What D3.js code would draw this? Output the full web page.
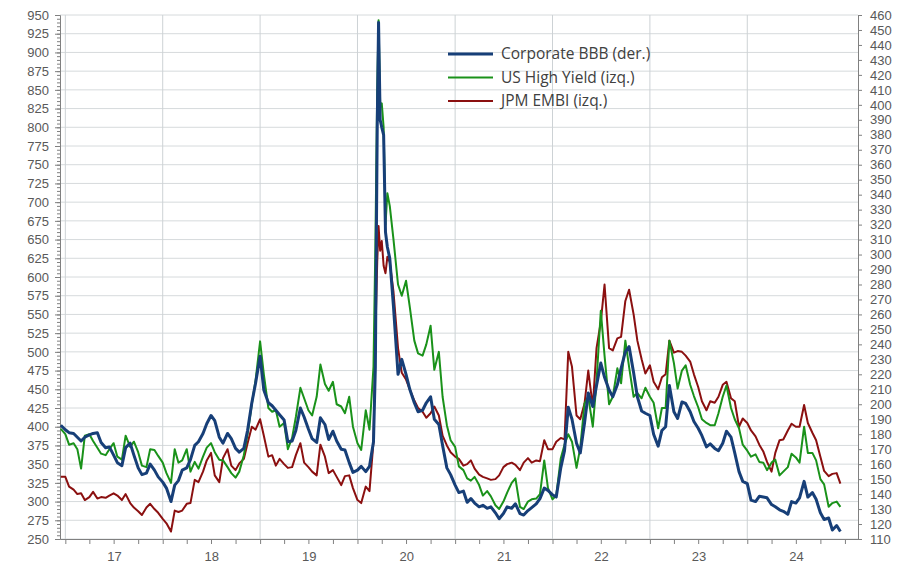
<!DOCTYPE html>
<html>
<head>
<meta charset="utf-8">
<script src="https://cdn.jsdelivr.net/npm/d3@7"></script>
<style>
  body { margin: 0; background: #fff; }
  svg { display: block; font-family: "Open Sans", sans-serif; }
</style>
</head>
<body>
<svg id="chart" width="909" height="566"></svg>
<script>
// Dates (semi-monthly, with a few extra points around the March 2020 spike)
const dates = [
  "2016-12-15",
  "2017-01-01","2017-01-15","2017-02-01","2017-02-15","2017-03-01","2017-03-15","2017-04-01","2017-04-15","2017-05-01","2017-05-15","2017-06-01","2017-06-15",
  "2017-07-01","2017-07-15","2017-08-01","2017-08-15","2017-09-01","2017-09-15","2017-10-01","2017-10-15","2017-11-01","2017-11-15","2017-12-01","2017-12-15",
  "2018-01-01","2018-01-15","2018-02-01","2018-02-15","2018-03-01","2018-03-15","2018-04-01","2018-04-15","2018-05-01","2018-05-15","2018-06-01","2018-06-15",
  "2018-07-01","2018-07-15","2018-08-01","2018-08-15","2018-09-01","2018-09-15","2018-10-01","2018-10-15","2018-11-01","2018-11-15","2018-12-01","2018-12-15",
  "2019-01-01","2019-01-15","2019-02-01","2019-02-15","2019-03-01","2019-03-15","2019-04-01","2019-04-15","2019-05-01","2019-05-15","2019-06-01","2019-06-15",
  "2019-07-01","2019-07-15","2019-08-01","2019-08-15","2019-09-01","2019-09-15","2019-10-01","2019-10-15","2019-11-01","2019-11-15","2019-12-01","2019-12-15",
  "2020-01-01","2020-01-15","2020-02-01","2020-02-15","2020-03-01","2020-03-08","2020-03-15","2020-03-20","2020-03-26","2020-04-01","2020-04-08","2020-04-15","2020-04-22","2020-05-01","2020-05-15","2020-06-01","2020-06-15",
  "2020-07-01","2020-07-15","2020-08-01","2020-08-15","2020-09-01","2020-09-15","2020-10-01","2020-10-15","2020-11-01","2020-11-15","2020-12-01","2020-12-15",
  "2021-01-01","2021-01-15","2021-02-01","2021-02-15","2021-03-01","2021-03-15","2021-04-01","2021-04-15","2021-05-01","2021-05-15","2021-06-01","2021-06-15",
  "2021-07-01","2021-07-15","2021-08-01","2021-08-15","2021-09-01","2021-09-15","2021-10-01","2021-10-15","2021-11-01","2021-11-15","2021-12-01","2021-12-15",
  "2022-01-01","2022-01-15","2022-02-01","2022-02-15","2022-03-01","2022-03-15","2022-04-01","2022-04-15","2022-05-01","2022-05-15","2022-06-01","2022-06-15",
  "2022-07-01","2022-07-15","2022-08-01","2022-08-15","2022-09-01","2022-09-15","2022-10-01","2022-10-15","2022-11-01","2022-11-15","2022-12-01","2022-12-15",
  "2023-01-01","2023-01-15","2023-02-01","2023-02-15","2023-03-01","2023-03-15","2023-04-01","2023-04-15","2023-05-01","2023-05-15","2023-06-01","2023-06-15",
  "2023-07-01","2023-07-15","2023-08-01","2023-08-15","2023-09-01","2023-09-15","2023-10-01","2023-10-15","2023-11-01","2023-11-15","2023-12-01","2023-12-15",
  "2024-01-01","2024-01-15","2024-02-01","2024-02-15","2024-03-01","2024-03-15","2024-04-01","2024-04-15","2024-05-01","2024-05-15","2024-06-01","2024-06-15",
  "2024-07-01","2024-07-15","2024-08-01","2024-08-15","2024-09-01","2024-09-15","2024-10-01","2024-10-15","2024-11-01","2024-11-15","2024-12-01","2024-12-15"
];

// Corporate BBB (right axis, pb)
const corporateBBB = [
  186,
  183, 181, 180.5, 178, 175.5, 178, 179.5, 180.5, 181, 174.5, 171, 171.5, 166, 161, 159, 171, 174, 166, 157.5, 153, 154, 160, 156, 151.5,
  148, 144, 135, 146, 149, 156, 157.5, 163, 172.5, 175, 180.5, 187, 192.5, 189, 178, 174, 180.5, 177, 170.5, 168, 170.5, 182.5, 201, 214,
  232, 209.5, 201, 199, 196, 193, 189.5, 175, 175.5, 182.5, 197.5, 191.5, 183.5, 177, 174.5, 191, 186.5, 176.5, 182, 175.5, 170, 169.5, 161, 154.5,
  156, 158.5, 155, 158.5, 175, 225, 385, 455, 390, 385, 380, 315, 305, 297.5, 265, 220, 230, 220, 210, 201, 195, 196, 201, 205, 190, 186.5, 172.5, 157.5, 153,
  146, 141, 142, 134.5, 137, 134, 131.5, 132.5, 130.5, 131.5, 127.5, 123.5, 127, 131.5, 130.5, 133.5, 127, 126, 129, 131, 133.5, 137, 144, 142.5,
  139.5, 138, 157.5, 169, 198, 190, 174, 167.5, 187.5, 207.5, 198.5, 212.5, 227.5, 218, 209.5, 205, 213, 224, 235, 238.5, 221, 205, 195.5, 194,
  192.5, 180, 172, 182.5, 185, 212.5, 195, 190.5, 201.5, 200.5, 195, 188.5, 184, 179, 171.5, 173.5, 170.5, 169, 174, 182, 178, 167.5, 155, 148.5,
  147, 136, 135, 138.5, 138, 137.5, 133, 131.5, 129.5, 128.5, 126.5, 135, 134, 137.5, 148.5, 138, 141, 136.5, 127.5, 123, 124, 116, 119, 115
];

// US High Yield (left axis, pb)
const usHighYield = [
  397,
  390, 376, 378, 370, 344, 388, 390, 381, 372, 364, 362, 370, 378, 360, 356, 388, 373, 380, 366, 348, 346, 370, 369, 361,
  352, 338, 325, 370, 352, 355, 370, 340, 353, 344, 360, 372, 378, 366, 356, 355, 346, 338, 332, 340, 362, 390, 430, 462,
  514, 470, 425, 420, 422, 400, 405, 370, 385, 413, 452, 438, 422, 415, 440, 483, 457, 448, 460, 430, 427, 418, 440, 400,
  378, 369, 422, 396, 480, 640, 850, 943, 830, 832, 800, 670, 712, 695, 650, 590, 575, 595, 560, 515, 498, 495, 510, 535, 476, 500, 440, 402, 382,
  373, 347, 342, 331, 328, 333, 322, 308, 314, 307, 295, 290, 300, 312, 325, 331, 293, 290, 300, 303, 304, 310, 355, 318,
  303, 308, 358, 376, 390, 380, 345, 372, 431, 440, 400, 460, 555, 495, 430, 440, 478, 458, 515, 480, 440, 445, 438, 452,
  440, 432, 398, 425, 425, 515, 485, 451, 475, 482, 456, 441, 426, 410, 405, 402, 402, 418, 440, 455, 425, 410, 398, 376,
  368, 360, 363, 353, 352, 342, 352, 356, 335, 340, 346, 364, 359, 352, 400, 365, 365, 355, 330, 323, 293, 298, 300, 293
];

// JPM EMBI (left axis, pb)
const jpmEmbi = [
  333,
  333, 320, 316, 310, 311, 302, 306, 313, 304, 306, 305, 308, 311, 308, 302, 310, 298, 292, 287, 282, 292, 297, 290, 285,
  277, 271, 260, 288, 286, 288, 297, 298, 329, 326, 340, 355, 365, 335, 326, 358, 370, 348, 342, 351, 357, 378, 400, 396,
  410, 388, 360, 362, 348, 357, 350, 345, 346, 362, 378, 352, 346, 340, 335, 376, 360, 338, 342, 333, 322, 334, 335, 318,
  302, 298, 320, 314, 380, 520, 620, 668, 635, 648, 615, 605, 627, 620, 580, 505, 472, 463, 450, 435, 425, 420, 412, 418, 427, 415, 388, 375, 366,
  360, 357, 348, 350, 355, 344, 336, 333, 331, 329, 330, 335, 346, 350, 352, 349, 342, 352, 358, 352, 355, 354, 382, 370,
  370, 380, 385, 383, 500, 480, 415, 410, 431, 475, 427, 505, 540, 590, 505, 502, 518, 520, 568, 583, 550, 515, 490, 471,
  482, 460, 450, 466, 470, 515, 499, 501, 500, 495, 487, 470, 453, 434, 422, 434, 432, 440, 456, 460, 438, 434, 400, 411,
  405, 395, 387, 376, 367, 353, 340, 365, 382, 383, 395, 404, 400, 400, 429, 405, 392, 382, 360, 341, 334, 337, 338, 324
];

const yearLabels = ["17", "18", "19", "20", "21", "22", "23", "24"];
const seriesNames = ["Corporate BBB (der.)", "US High Yield (izq.)", "JPM EMBI (izq.)"];
const seriesColors = ["#173f78", "#1a921a", "#8b1010"];

const margin = { top: 15, right: 51, bottom: 27, left: 60 },
    width = 909 - margin.left - margin.right,
    height = 566 - margin.top - margin.bottom;

const svg = d3.select("#chart");
const g = svg.append("g")
    .attr("transform", `translate(${margin.left},${margin.top})`);

const parse = d3.timeParse("%Y-%m-%d");
const parsedDates = dates.map(parse);

// Scales
const x = d3.scaleTime()
    .domain([new Date(2016, 11, 12), new Date(2025, 1, 19)])
    .range([0, width]);
const yLeft = d3.scaleLinear().domain([250, 950]).range([height, 0]);
const yRight = d3.scaleLinear().domain([110, 460]).range([height, 0]);

// Gridlines
g.append("g").selectAll("line")
    .data(d3.range(250, 951, 25))
    .join("line")
    .attr("x1", 0).attr("x2", width)
    .attr("y1", d => yLeft(d)).attr("y2", d => yLeft(d))
    .attr("stroke", "#d6dadc");

g.append("g").selectAll("line")
    .data(d3.range(2017, 2025).map(yr => new Date(yr, 0, 1)))
    .join("line")
    .attr("x1", d => x(d)).attr("x2", d => x(d))
    .attr("y1", 0).attr("y2", height)
    .attr("stroke", "#cdd2d5");

// Axes
function styleAxis(sel) {
  sel.selectAll("path, line").attr("stroke", "#808080");
  sel.selectAll("text").attr("fill", "#595959").style("font-size", "13px")
     .style("font-family", "'Liberation Sans', Arial, sans-serif");
}

g.append("g")
    .call(d3.axisLeft(yLeft).tickValues(d3.range(250, 951, 5)).tickSize(3).tickSizeOuter(0).tickFormat(""))
    .call(styleAxis);
g.append("g")
    .call(d3.axisLeft(yLeft).tickValues(d3.range(250, 951, 25)).tickSize(5).tickSizeOuter(0).tickPadding(6))
    .call(styleAxis);

g.append("g")
    .attr("transform", `translate(${width},0)`)
    .call(d3.axisRight(yRight).tickValues(d3.range(110, 461, 10)).tickSize(4).tickSizeOuter(0).tickPadding(8))
    .call(styleAxis);

const quarters = d3.timeMonth.every(3).range(new Date(2017, 0, 1), new Date(2025, 0, 2));
g.append("g")
    .attr("transform", `translate(0,${height})`)
    .call(d3.axisBottom(x).tickValues(quarters).tickSize(5).tickSizeOuter(0).tickFormat(""))
    .call(styleAxis);

const yearMids = d3.range(2017, 2025).map(yr => new Date(yr, 6, 2));
g.append("g")
    .attr("transform", `translate(0,${height})`)
    .call(d3.axisBottom(x).tickValues(yearMids).tickSize(0).tickPadding(13)
        .tickFormat((d, i) => yearLabels[i]))
    .call(styleAxis)
    .call(a => a.select(".domain").remove());

// Lines (red first, blue on top)
const series = [
  { values: jpmEmbi, scale: yLeft, color: seriesColors[2], w: 2 },
  { values: usHighYield, scale: yLeft, color: seriesColors[1], w: 2 },
  { values: corporateBBB, scale: yRight, color: seriesColors[0], w: 3 }
];

series.forEach(s => {
  const line = d3.line()
      .x((d, i) => x(parsedDates[i]))
      .y(d => s.scale(d));
  g.append("path")
      .datum(s.values)
      .attr("fill", "none")
      .attr("stroke", s.color)
      .attr("stroke-width", s.w)
      .attr("stroke-linejoin", "round")
      .attr("d", line);
});

// Legend
const legend = svg.append("g").attr("transform", "translate(448,54)");
seriesNames.forEach((name, i) => {
  const row = legend.append("g").attr("transform", `translate(0,${i * 23.5})`);
  row.append("line")
      .attr("x1", 0).attr("x2", 45)
      .attr("stroke", seriesColors[i])
      .attr("stroke-width", i === 0 ? 3 : 2.2);
  row.append("text")
      .attr("x", 53).attr("y", 0)
      .attr("dy", "0.35em")
      .attr("fill", "#404040")
      .style("font-size", "15.5px")
      .text(name);
});
</script>
</body>
</html>
